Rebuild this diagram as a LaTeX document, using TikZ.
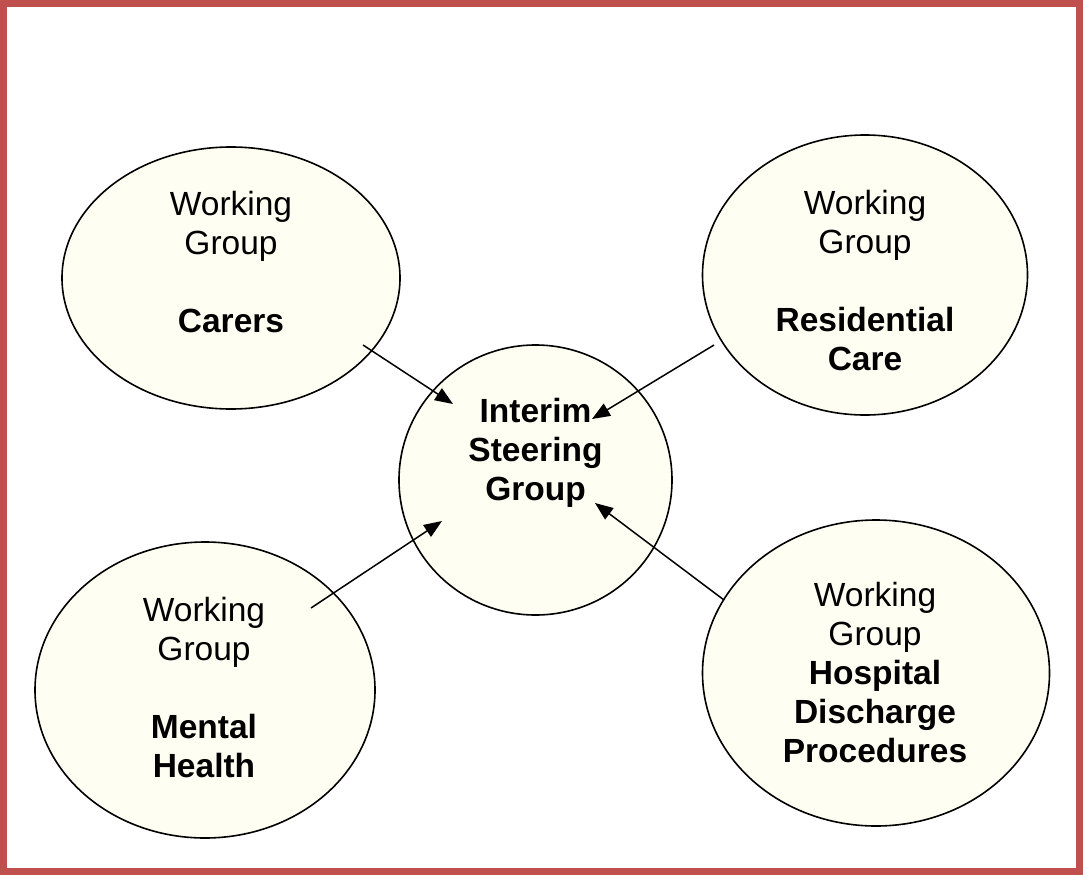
\documentclass[tikz,border=0pt]{standalone}
\usepackage{fontspec}
\setmainfont{Liberation Sans}
\usetikzlibrary{shapes.geometric,arrows.meta}
\definecolor{frame}{HTML}{C0504D}
\definecolor{ivory}{HTML}{FFFEF3}
\begin{document}
\begin{tikzpicture}[x=1pt,y=-1pt,
  bubble/.style={draw=black,line width=1.6pt,fill=ivory,ellipse,inner sep=0pt},
  lbl/.style={align=center,font=\fontsize{33.5}{39}\selectfont,inner sep=0pt},
  conn/.style={line width=1.5pt,-{Triangle[length=18pt,width=14pt]}}]
\useasboundingbox (0,0) rectangle (1083,875);
\draw[frame,line width=7pt] (3.5,3.5) rectangle (1079.5,871.5);
% bubbles
\node[bubble,minimum width=338pt,minimum height=262pt] (carers) at (231,278) {};
\node[bubble,minimum width=325pt,minimum height=280pt] (resid) at (865,275) {};
\node[bubble,minimum width=273pt,minimum height=270pt] (central) at (535.5,480) {};
\node[bubble,minimum width=340pt,minimum height=296pt] (mental) at (205,690) {};
\node[bubble,minimum width=347pt,minimum height=306pt] (hosp) at (876,673) {};
% texts
\node[lbl] (tcarers) at (231,262) {Working\\Group\\[39pt]\textbf{Carers}};
\node[lbl] (tresid) at (865,281) {Working\\Group\\[39pt]\textbf{Residential}\\\textbf{Care}};
\node[lbl] (tcentral) at (535.5,452.5) {\textbf{Interim}\\\textbf{Steering}\\\textbf{Group}};
\node[lbl] (tmental) at (204,688) {Working\\Group\\[39pt]\textbf{Mental}\\\textbf{Health}};
\node[lbl] (thosp) at (875,673) {Working\\Group\\\textbf{Hospital}\\\textbf{Discharge}\\\textbf{Procedures}};
% connectors
\coordinate (c1s) at (363,345); \coordinate (c1e) at (453,404);
\coordinate (c2s) at (714,345); \coordinate (c2e) at (592,419);
\coordinate (c3s) at (311,608); \coordinate (c3e) at (442,521);
\coordinate (c4s) at (724,600); \coordinate (c4e) at (595,503);
\draw[conn] (c1s) -- (c1e);
\draw[conn] (c2s) -- (c2e);
\draw[conn] (c3s) -- (c3e);
\draw[conn] (c4s) -- (c4e);
\end{tikzpicture}
\end{document}
